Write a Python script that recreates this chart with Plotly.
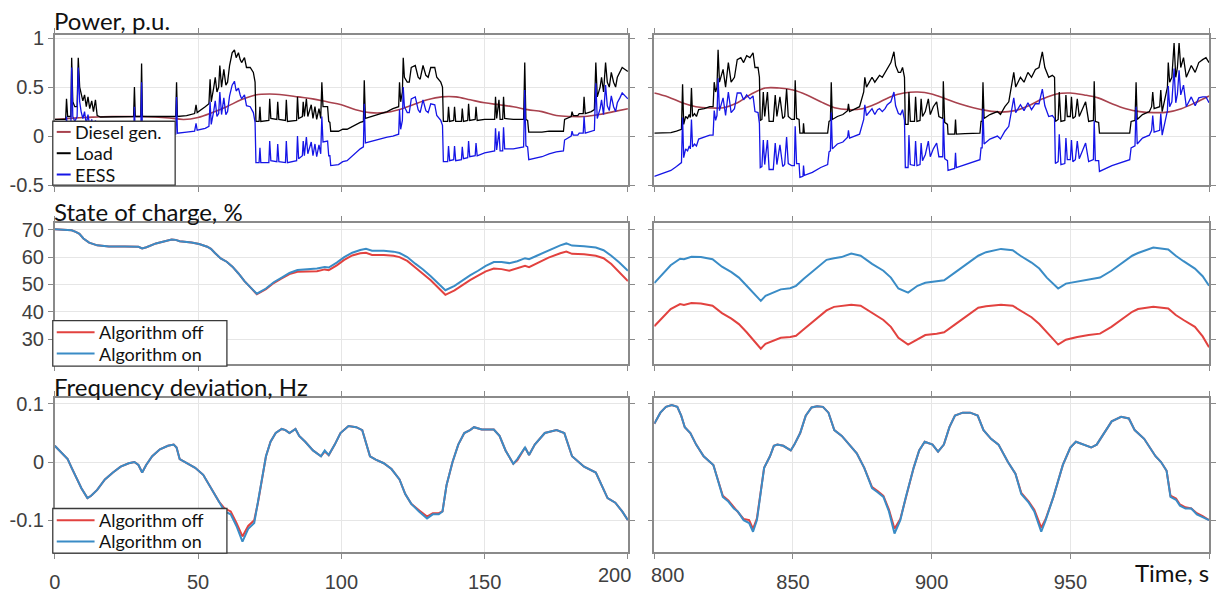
import plotly.graph_objects as go

# ---------------- DATA ----------------
# Power panel, left window (0..200 s)
p_left_t = [0.0, 2.0, 3.8, 4.1, 4.5, 5.6, 5.9, 6.3, 7.0, 7.8,
            8.2, 8.7, 9.2, 9.8, 10.4, 11.0, 11.6, 12.2, 12.9, 13.5,
            14.2, 14.8, 16, 20, 27.5, 27.8, 28.1, 30.0, 30.3, 30.6,
            35, 40, 42.2, 42.5, 42.8, 46, 48.8, 49.3, 49.7, 52.5,
            53.8, 54.2, 54.6, 55.5, 56.0, 56.6, 57.2, 57.6, 58.2, 59.0,
            59.7, 60.3, 61.0, 61.9, 62.7, 63.3, 64.1, 64.7, 65.2, 66.2,
            66.9, 68.2, 69.3, 69.9, 70.2, 71.3, 71.6, 71.9, 74.7, 75.0,
            75.4, 77.5, 77.8, 78.2, 80.5, 80.8, 81.2, 84.4, 84.7, 85.1,
            86.4, 86.7, 87.1, 87.8, 88.3, 89.5, 90.1, 90.8, 91.4, 92.2,
            92.8, 93.2, 93.6, 95.2, 95.6, 96.0, 96.3, 99, 100.5, 102,
            103.8, 105.2, 106.6, 107.7, 108.0, 108.4, 110.7, 113.4, 116, 118,
            120.0, 120.3, 120.7, 121.3, 121.6, 122.0, 123.0, 123.7, 124.4, 125.8,
            126.8, 127.5, 128.5, 129.5, 130.3, 131.2, 132.6, 133.3, 134.7, 135.3,
            135.6, 137.1, 137.4, 137.8, 139.2, 139.5, 139.9, 141.9, 142.2, 142.6,
            144.1, 144.4, 144.8, 146.7, 147.0, 147.4, 150, 153.5, 153.8, 154.2,
            155.0, 155.4, 156.3, 156.6, 157.0, 160, 163.6, 164.0, 164.4, 165.0,
            165.4, 170, 172.5, 175, 177.5, 177.9, 180.2, 180.5, 180.9, 182.5,
            183, 184.4, 184.7, 185.1, 187.2, 188.3, 188.8, 189.3, 190.3, 190.8,
            191.5, 192.2, 192.8, 193.5, 194.2, 195.0, 195.7, 196.3, 197.2, 198.0,
            199.0, 200]
p_left_load = [0.17, 0.17, 0.17, 0.38, 0.2, 0.2, 0.8, 0.35, 0.3, 0.3,
               0.8, 0.5, 0.42, 0.36, 0.42, 0.3, 0.4, 0.28, 0.36, 0.25,
               0.37, 0.21, 0.195, 0.195, 0.2, 0.5, 0.2, 0.2, 0.74, 0.2,
               0.2, 0.2, 0.2, 0.55, 0.2, 0.21, 0.23, 0.32, 0.24, 0.3,
               0.33, 0.58, 0.35, 0.5, 0.6, 0.45, 0.5, 0.72, 0.5, 0.68,
               0.52, 0.55, 0.72, 0.85, 0.88, 0.8, 0.85, 0.78, 0.75, 0.8,
               0.7, 0.7, 0.65, 0.55, 0.15, 0.15, 0.3, 0.15, 0.16, 0.38,
               0.18, 0.17, 0.35, 0.17, 0.16, 0.37, 0.15, 0.16, 0.4, 0.18,
               0.2, 0.35, 0.2, 0.38, 0.2, 0.32, 0.18, 0.3, 0.17, 0.28,
               0.18, 0.55, 0.3, 0.3, 0.15, 0.14, 0.05, 0.05, 0.07, 0.07,
               0.1, 0.12, 0.14, 0.15, 0.57, 0.18, 0.2, 0.22, 0.25, 0.28,
               0.3, 0.55, 0.35, 0.45, 0.8, 0.6, 0.55, 0.55, 0.7, 0.72,
               0.6, 0.58, 0.72, 0.62, 0.6, 0.7, 0.7, 0.6, 0.55, 0.5,
               0.15, 0.15, 0.3, 0.15, 0.16, 0.3, 0.15, 0.15, 0.28, 0.15,
               0.16, 0.33, 0.16, 0.17, 0.3, 0.16, 0.17, 0.17, 0.4, 0.18,
               0.37, 0.17, 0.17, 0.4, 0.18, 0.17, 0.17, 0.75, 0.17, 0.16,
               0.04, 0.04, 0.05, 0.05, 0.05, 0.17, 0.2, 0.25, 0.21, 0.21,
               0.23, 0.23, 0.4, 0.23, 0.25, 0.27, 0.75, 0.4, 0.5, 0.6,
               0.45, 0.75, 0.55, 0.5, 0.65, 0.55, 0.5, 0.6, 0.65, 0.7,
               0.68, 0.66]
p_left_eess = [0.0, 0.0, 0.02, 0.2, 0.03, 0.05, 0.7, 0.2, 0.15, 0.2,
               0.7, 0.35, 0.25, 0.18, 0.25, 0.12, 0.22, 0.1, 0.17, 0.07,
               0.16, 0.02, 0.0, -0.005, 0.0, 0.3, 0.0, 0.0, 0.55, 0.0,
               0.005, 0.015, 0.02, 0.4, 0.03, 0.04, 0.05, 0.13, 0.06, 0.08,
               0.1, 0.35, 0.12, 0.26, 0.36, 0.2, 0.23, 0.45, 0.22, 0.39,
               0.22, 0.25, 0.41, 0.52, 0.56, 0.46, 0.49, 0.42, 0.38, 0.42,
               0.31, 0.3, 0.24, 0.14, -0.27, -0.27, -0.12, -0.27, -0.27, -0.05,
               -0.25, -0.26, -0.08, -0.26, -0.27, -0.05, -0.27, -0.25, 0.0, -0.23,
               -0.2, -0.05, -0.2, -0.01, -0.18, -0.06, -0.2, -0.08, -0.21, -0.09,
               -0.18, 0.2, -0.06, -0.05, -0.2, -0.2, -0.3, -0.29, -0.26, -0.25,
               -0.2, -0.16, -0.13, -0.11, 0.33, -0.07, -0.05, -0.03, -0.01, 0.0,
               0.02, 0.27, 0.07, 0.16, 0.5, 0.3, 0.24, 0.24, 0.38, 0.4,
               0.27, 0.24, 0.37, 0.26, 0.24, 0.33, 0.32, 0.21, 0.16, 0.11,
               -0.26, -0.26, -0.1, -0.25, -0.24, -0.1, -0.25, -0.24, -0.11, -0.23,
               -0.22, -0.05, -0.21, -0.2, -0.07, -0.2, -0.17, -0.15, 0.08, -0.14,
               0.05, -0.15, -0.15, 0.09, -0.13, -0.13, -0.11, 0.47, -0.1, -0.11,
               -0.24, -0.21, -0.18, -0.16, -0.15, -0.04, 0.0, 0.05, 0.01, 0.01,
               0.03, 0.03, 0.2, 0.03, 0.05, 0.06, 0.54, 0.18, 0.28, 0.37,
               0.22, 0.52, 0.31, 0.26, 0.41, 0.3, 0.25, 0.34, 0.39, 0.44,
               0.41, 0.38]
diesel_left_t = [0, 5, 10, 15, 20, 25, 30, 35, 40, 45,
                 50, 55, 60, 65, 70, 75, 80, 85, 90, 95,
                 100, 105, 110, 115, 120, 125, 130, 135, 140, 145,
                 150, 155, 160, 165, 170, 175, 180, 185, 190, 195, 200]
diesel_left = [0.17, 0.18, 0.19, 0.195, 0.2, 0.2, 0.2, 0.195, 0.185, 0.17,
               0.19, 0.24, 0.3, 0.37, 0.42, 0.43, 0.42, 0.40, 0.38, 0.35,
               0.32, 0.27, 0.24, 0.24, 0.27, 0.32, 0.37, 0.40, 0.40, 0.37,
               0.34, 0.32, 0.30, 0.27, 0.25, 0.21, 0.2, 0.2, 0.22, 0.25, 0.28]

# Power panel, right window (800..1000 s)
p_right_t = [800, 803, 806, 808, 809.8, 810.2, 810.6, 811.3, 812.0, 812.6,
             813.0, 813.4, 813.8, 814.5, 815.2, 816, 818, 820, 821.2, 821.6,
             822.1, 822.6, 823.0, 823.5, 824.8, 825.7, 826.7, 827.7, 828.9, 829.9,
             831.2, 832.2, 833.3, 834.5, 835.6, 836.3, 837.4, 837.9, 838.2, 838.8,
             839.3, 839.8, 840.8, 841.4, 842.9, 843.6, 844.2, 845.3, 846.3, 847.0,
             847.7, 848.3, 849.5, 850.5, 850.8, 851.3, 852.2, 852.5, 853.6, 853.8,
             854.1, 857, 860, 862.5, 863.0, 863.5, 863.8, 864.2, 866, 868,
             869.7, 870.0, 870.4, 872.3, 874, 875.5, 875.9, 876.5, 877.5, 878.5,
             879.5, 880.5, 881.2, 882.2, 883.2, 884.0, 885.3, 886.4, 887.0, 888.0,
             888.8, 889.5, 890.2, 890.5, 891.5, 891.8, 892.3, 893.8, 894.2, 894.7,
             895.8, 896.2, 896.7, 897.7, 898.8, 899.5, 900.6, 901.8, 902.6, 904.0,
             904.2, 904.7, 905.7, 905.9, 908.3, 908.6, 908.9, 912, 915, 917.4,
             917.8, 918.2, 918.5, 918.9, 921, 923.7, 924.8, 926.4, 927.8, 929.0,
             929.6, 930.3, 932.0, 933.3, 934.7, 936.0, 937.4, 938.7, 939.9, 940.8,
             942.2, 943.5, 944.3, 944.6, 945.6, 946.0, 946.6, 948.0, 948.4, 948.9,
             950.0, 950.4, 950.9, 951.8, 952.5, 953.2, 955.5, 956.6, 958.3, 958.6,
             959.0, 960.2, 960.5, 965, 968, 971.4, 971.9, 973.3, 973.7, 974.1,
             976, 978.5, 979.3, 979.7, 980.2, 982.2, 982.6, 983.1, 985.0, 985.3,
             985.8, 986.6, 987.4, 988.0, 988.6, 989.2, 989.8, 990.8, 991.8, 993.6,
             995.0, 996.3, 997.7, 998.9, 1000]
p_right_load = [0.03, 0.03, 0.035, 0.05, 0.07, 0.53, 0.12, 0.2, 0.18, 0.22,
                0.19, 0.49, 0.2, 0.23, 0.2, 0.27, 0.28, 0.3, 0.3, 0.55,
                0.45, 0.5, 0.88, 0.55, 0.68, 0.5, 0.75, 0.55, 0.6, 0.78,
                0.8, 0.75, 0.82, 0.8, 0.85, 0.7, 0.7, 0.6, 0.16, 0.17,
                0.45, 0.2, 0.45, 0.15, 0.15, 0.42, 0.2, 0.4, 0.18, 0.2,
                0.48, 0.2, 0.17, 0.17, 0.57, 0.18, 0.17, 0.03, 0.03, 0.13,
                0.03, 0.03, 0.03, 0.03, 0.15, 0.16, 0.55, 0.17, 0.2, 0.22,
                0.26, 0.33, 0.25, 0.28, 0.3, 0.45, 0.6, 0.5, 0.55, 0.6,
                0.55, 0.6, 0.62, 0.6, 0.65, 0.7, 0.75, 0.86, 0.72, 0.65,
                0.65, 0.7, 0.6, 0.12, 0.12, 0.45, 0.15, 0.15, 0.4, 0.15,
                0.16, 0.38, 0.2, 0.25, 0.38, 0.22, 0.3, 0.35, 0.2, 0.18,
                0.56, 0.14, 0.12, 0.02, 0.02, 0.17, 0.02, 0.025, 0.03, 0.03,
                0.15, 0.15, 0.55, 0.18, 0.22, 0.25, 0.22, 0.3, 0.35, 0.55,
                0.65, 0.5, 0.6, 0.55, 0.65, 0.6, 0.68, 0.7, 0.86, 0.7,
                0.6, 0.62, 0.6, 0.15, 0.17, 0.45, 0.15, 0.16, 0.42, 0.2,
                0.2, 0.4, 0.18, 0.2, 0.38, 0.2, 0.35, 0.15, 0.16, 0.56,
                0.15, 0.14, 0.03, 0.03, 0.03, 0.03, 0.15, 0.16, 0.55, 0.17,
                0.22, 0.25, 0.3, 0.45, 0.28, 0.3, 0.47, 0.25, 0.5, 0.75,
                0.55, 0.6, 0.95, 0.6, 0.7, 0.95, 0.7, 0.8, 0.6, 0.72,
                0.65, 0.75, 0.78, 0.8, 0.75]
p_right_eess = [-0.41, -0.38, -0.35, -0.31, -0.27, 0.19, -0.22, -0.13, -0.15, -0.1,
                -0.13, 0.17, -0.11, -0.08, -0.1, -0.03, -0.01, 0.01, 0.01, 0.26,
                0.16, 0.21, 0.59, 0.26, 0.39, 0.21, 0.45, 0.24, 0.28, 0.44,
                0.44, 0.37, 0.42, 0.38, 0.41, 0.25, 0.24, 0.13, -0.32, -0.31,
                -0.04, -0.29, -0.04, -0.34, -0.34, -0.07, -0.29, -0.09, -0.31, -0.29,
                -0.01, -0.28, -0.3, -0.3, 0.1, -0.28, -0.28, -0.42, -0.41, -0.3,
                -0.4, -0.37, -0.32, -0.29, -0.16, -0.15, 0.24, -0.13, -0.08, -0.06,
                -0.01, 0.06, -0.02, 0.0, 0.02, 0.17, 0.32, 0.21, 0.25, 0.28,
                0.22, 0.27, 0.28, 0.25, 0.28, 0.32, 0.35, 0.45, 0.31, 0.23,
                0.22, 0.27, 0.16, -0.32, -0.32, 0.01, -0.29, -0.3, -0.05, -0.3,
                -0.29, -0.07, -0.25, -0.19, -0.05, -0.21, -0.13, -0.07, -0.21, -0.21,
                0.18, -0.23, -0.25, -0.35, -0.33, -0.17, -0.32, -0.29, -0.26, -0.24,
                -0.12, -0.12, 0.28, -0.08, -0.03, 0.0, -0.03, 0.05, 0.1, 0.29,
                0.39, 0.24, 0.32, 0.26, 0.34, 0.27, 0.33, 0.33, 0.48, 0.31,
                0.2, 0.21, 0.18, -0.28, -0.26, 0.02, -0.29, -0.28, -0.02, -0.24,
                -0.24, -0.04, -0.26, -0.24, -0.05, -0.23, -0.07, -0.26, -0.24, 0.16,
                -0.25, -0.25, -0.36, -0.3, -0.27, -0.24, -0.12, -0.1, 0.3, -0.08,
                -0.02, 0.01, 0.06, 0.21, 0.04, 0.06, 0.23, 0.01, 0.26, 0.51,
                0.3, 0.35, 0.69, 0.34, 0.43, 0.67, 0.42, 0.52, 0.3, 0.4,
                0.31, 0.39, 0.4, 0.4, 0.34]
diesel_right_t = [800, 805, 810, 815, 820, 825, 830, 835, 840, 845,
                  850, 855, 860, 865, 870, 875, 880, 885, 890, 895,
                  900, 905, 910, 915, 920, 925, 930, 935, 940, 945,
                  950, 955, 960, 965, 970, 975, 980, 985, 990, 995, 1000]
diesel_right = [0.44, 0.40, 0.34, 0.30, 0.287, 0.29, 0.34, 0.43, 0.49, 0.49,
                0.47, 0.42, 0.35, 0.29, 0.27, 0.28, 0.33, 0.40, 0.44, 0.45,
                0.43, 0.38, 0.33, 0.29, 0.26, 0.245, 0.26, 0.31, 0.38, 0.43,
                0.44, 0.42, 0.39, 0.33, 0.28, 0.25, 0.24, 0.245, 0.28, 0.34, 0.41]

# State of charge
soc_left_t = [0, 3.8, 5.9, 7.3, 8.6, 10, 12, 14.8, 18.9, 24.4,
              27.8, 29.2, 30.5, 32, 35.3, 38, 40.8, 42.2, 43.6, 47.7,
              50.4, 53.2, 54.5, 55.9, 57.9, 60, 62, 64.1, 66.2, 68.2,
              70.5, 73.7, 76.4, 79.2, 81.9, 84.7, 87.4, 91.5, 94.2, 95.6,
              98.4, 101, 103.8, 106.6, 108.6, 110.7, 114.8, 118.2, 120.3, 123,
              125.8, 128.5, 131.2, 134, 136.3, 139.5, 142.2, 144.9, 147.7, 150.4,
              153.2, 155.9, 158.6, 161.4, 164.1, 165.5, 168.2, 172.3, 176.4, 178.5,
              180.5, 184.7, 188.8, 191.5, 194.2, 197, 200]
soc_left_on = [70.2, 70.1, 69.8, 69.2, 68.5, 66.8, 65.3, 64.3, 63.9, 63.9,
               64.0, 63.8, 63.2, 63.6, 65.0, 65.8, 66.4, 66.3, 65.8, 65.3,
               64.8, 63.8, 63.0, 61.5, 59.5, 58.3, 56.5, 54.0, 51.2, 49.0,
               46.6, 48.5, 50.8, 52.5, 54.2, 55.3, 55.5, 55.8, 56.4, 56.2,
               58.0, 60.0, 61.6, 62.6, 63.0, 62.3, 62.3, 62.0, 61.5, 60.0,
               57.6, 55.5, 53.0, 50.3, 47.9, 49.5, 51.5, 53.3, 55.0, 56.8,
               58.2, 58.2, 57.8, 58.5, 59.6, 59.2, 60.5, 62.5, 64.3, 65.0,
               64.2, 64.0, 63.5, 62.5, 60.5, 58.0, 55.0]
soc_left_off = [70.2, 70.1, 69.8, 69.2, 68.5, 66.8, 65.3, 64.3, 63.9, 63.9,
                64.0, 63.8, 63.2, 63.6, 65.0, 65.8, 66.4, 66.3, 65.8, 65.3,
                64.8, 63.8, 63.0, 61.5, 59.5, 58.3, 56.5, 54.0, 51.2, 49.0,
                46.4, 48.3, 50.5, 52.2, 53.8, 54.6, 54.6, 54.8, 55.5, 55.2,
                57.0, 59.0, 60.6, 61.4, 61.6, 60.8, 60.8, 60.5, 60.0, 58.6,
                56.2, 54.0, 51.5, 48.6, 46.2, 47.8, 49.8, 51.6, 53.2, 54.8,
                55.8, 55.6, 55.0, 56.0, 56.8, 56.3, 57.8, 59.8, 61.4, 62.0,
                61.2, 61.0, 60.5, 59.6, 57.5, 54.5, 51.2]
soc_right_t = [800, 803, 805.9, 809.3, 810.7, 813.4, 816.8, 821, 824.4, 827.8,
               830.5, 833.3, 836, 838.4, 840.1, 842.9, 845.6, 849, 851.1, 853.8,
               857.9, 862.1, 864.8, 867.5, 871, 874.4, 878.5, 882.6, 885.3, 888,
               891.5, 894.9, 897.7, 901.8, 904.5, 908.6, 912.7, 916.8, 919.6, 925,
               929.2, 932, 936, 938.8, 941.5, 945.6, 948.4, 952.5, 956.6, 960.7,
               964.8, 968.9, 972.3, 974.4, 979.9, 985.3, 988, 990.8, 994.9, 997.7,
               1000]
soc_right_on = [50.5, 54.0, 57.0, 59.4, 59.2, 60.1, 60.0, 59.2, 56.5, 54.5,
                52.5, 49.5, 46.5, 44.0, 45.8, 47.0, 48.2, 48.6, 49.5, 52.0,
                55.5, 59.0, 59.6, 60.0, 61.3, 60.5, 57.5, 55.0, 52.5, 48.5,
                47.0, 49.5, 50.6, 51.0, 51.5, 54.5, 57.5, 60.5, 61.8, 63.0,
                62.5, 60.5, 58.0, 55.8, 52.5, 48.5, 50.3, 51.0, 51.8, 52.5,
                55.0, 58.0, 60.5, 61.5, 63.5, 62.8, 60.5, 58.5, 55.8, 53.0,
                49.5]
soc_right_off = [34.7, 38.0, 41.0, 42.8, 42.5, 43.2, 43.0, 42.2, 39.5, 37.5,
                 35.5, 32.5, 29.5, 26.5, 28.3, 29.5, 30.5, 30.8, 31.2, 33.5,
                 37.0, 40.5, 41.8, 42.2, 42.6, 42.2, 39.5, 37.0, 34.5, 30.5,
                 28.0, 30.0, 31.5, 32.0, 32.5, 35.5, 38.5, 41.5, 42.0, 42.6,
                 42.2, 40.5, 38.0, 35.5, 32.5, 28.0, 29.8, 30.8, 31.5, 32.0,
                 34.5, 37.5, 40.0, 41.0, 41.8, 41.2, 38.8, 37.0, 34.5, 31.0,
                 27.0]

# Frequency deviation
f_left_t = [0, 2.5, 4.5, 5.9, 7.9, 9.3, 11.4, 12.7, 14.8, 17.5,
            20.3, 23, 25.8, 27.8, 29.2, 30.5, 31.9, 34, 36.7, 39.5,
            41.5, 42.5, 43.6, 46.3, 49, 51.8, 54.5, 57.3, 59.3, 61.4,
            63.4, 65.5, 67.5, 69.6, 70.9, 72.3, 73.7, 75.3, 77.1, 79.2,
            80.5, 81.9, 84, 85.3, 87.4, 90.1, 92.9, 94.2, 95.6, 97.7,
            99.7, 102.5, 105.2, 107.3, 108.6, 110, 112, 114.8, 117.5, 120.3,
            122.3, 124.4, 127.1, 129.9, 131.9, 134, 135.3, 136.7, 138.8, 140.8,
            142.9, 144.9, 146.3, 149, 153.2, 155.2, 157.3, 160, 161.4, 164.1,
            165.5, 167.5, 171, 175.1, 177.8, 180.5, 184.7, 188.8, 192.9, 195.6,
            198, 200]
f_left_on = [0.028, 0.015, 0.005, -0.01, -0.03, -0.045, -0.062, -0.058, -0.048, -0.03,
             -0.018, -0.008, -0.002, 0.0, -0.005, -0.018, -0.005, 0.01, 0.022, 0.028,
             0.03, 0.025, 0.005, -0.003, -0.01, -0.022, -0.045, -0.07, -0.085, -0.09,
             -0.11, -0.137, -0.115, -0.105, -0.07, -0.03, 0.01, 0.035, 0.05, 0.057,
             0.055, 0.05, 0.057, 0.045, 0.035, 0.02, 0.01, 0.02, 0.012, 0.03,
             0.05, 0.062, 0.06, 0.055, 0.035, 0.01, 0.004, -0.002, -0.012, -0.03,
             -0.055, -0.072, -0.085, -0.097, -0.09, -0.09, -0.085, -0.04, 0.0, 0.03,
             0.05, 0.055, 0.06, 0.056, 0.056, 0.045, 0.02, -0.003, 0.005, 0.025,
             0.012, 0.03, 0.05, 0.055, 0.05, 0.01, -0.008, -0.018, -0.062, -0.07,
             -0.085, -0.1]
f_left_off = [0.028, 0.015, 0.005, -0.01, -0.03, -0.045, -0.062, -0.058, -0.048, -0.03,
              -0.018, -0.008, -0.002, 0.0, -0.005, -0.018, -0.005, 0.01, 0.022, 0.028,
              0.03, 0.025, 0.005, -0.003, -0.01, -0.022, -0.045, -0.068, -0.08, -0.085,
              -0.105, -0.128, -0.11, -0.1, -0.07, -0.03, 0.01, 0.035, 0.05, 0.057,
              0.055, 0.05, 0.057, 0.045, 0.035, 0.02, 0.01, 0.018, 0.012, 0.03,
              0.05, 0.062, 0.06, 0.055, 0.035, 0.01, 0.004, -0.002, -0.012, -0.03,
              -0.055, -0.072, -0.083, -0.094, -0.088, -0.088, -0.085, -0.04, 0.0, 0.03,
              0.05, 0.055, 0.06, 0.056, 0.056, 0.045, 0.02, -0.003, 0.003, 0.025,
              0.012, 0.03, 0.05, 0.055, 0.05, 0.01, -0.008, -0.018, -0.062, -0.07,
              -0.085, -0.1]
f_right_t = [800, 802.2, 804.2, 806.3, 808.3, 809.7, 811, 813, 815.1, 817.8,
             821.3, 823.3, 824.7, 826.7, 828.7, 830.1, 832.2, 834.2, 835.6, 837,
             838.3, 839.6, 841.7, 843.1, 844.4, 846.5, 849.2, 850.5, 852.6, 854.6,
             856.7, 858.7, 860.8, 862.8, 864.9, 867.6, 870.3, 873, 875.7, 878.5,
             880.5, 882.6, 884.6, 886.6, 888.7, 890.7, 893.5, 895.5, 897.5, 900.3,
             902.3, 904.4, 906.4, 908.4, 911.2, 913.9, 916.6, 918.7, 921.4, 924.1,
             927.5, 930.2, 932.3, 935, 937, 939.5, 941.1, 943.9, 947.3, 950,
             952, 954.8, 957.5, 959.5, 962.2, 964.9, 968.3, 971.1, 973.2, 976.6,
             980.7, 982.7, 984.7, 986.1, 988.1, 989.5, 991.5, 993.6, 995.6, 997.7,
             1000]
f_right_on = [0.066, 0.085, 0.095, 0.098, 0.095, 0.08, 0.06, 0.05, 0.03, 0.01,
              -0.005, -0.035, -0.06, -0.068, -0.08, -0.085, -0.1, -0.105, -0.12, -0.1,
              -0.05, -0.01, 0.01, 0.028, 0.03, 0.028, 0.02, 0.03, 0.05, 0.08,
              0.094, 0.096, 0.095, 0.085, 0.055, 0.045, 0.03, 0.015, -0.01, -0.045,
              -0.052, -0.06, -0.085, -0.123, -0.1, -0.06, -0.01, 0.02, 0.035, 0.03,
              0.018, 0.03, 0.06, 0.08, 0.085, 0.085, 0.08, 0.055, 0.04, 0.03,
              0.0, -0.02, -0.055, -0.07, -0.085, -0.12, -0.1, -0.06, -0.005, 0.025,
              0.035, 0.03, 0.025, 0.03, 0.05, 0.07, 0.078, 0.075, 0.055, 0.04,
              0.01, 0.0, -0.015, -0.06, -0.065, -0.075, -0.08, -0.08, -0.09, -0.095,
              -0.1]
f_right_off = [0.066, 0.085, 0.095, 0.098, 0.095, 0.08, 0.06, 0.05, 0.03, 0.01,
               -0.005, -0.035, -0.058, -0.066, -0.078, -0.085, -0.098, -0.1, -0.115, -0.097,
               -0.05, -0.01, 0.01, 0.028, 0.03, 0.028, 0.02, 0.03, 0.05, 0.08,
               0.094, 0.096, 0.095, 0.085, 0.055, 0.045, 0.03, 0.015, -0.01, -0.043,
               -0.05, -0.058, -0.082, -0.115, -0.098, -0.06, -0.01, 0.02, 0.035, 0.03,
               0.018, 0.03, 0.06, 0.08, 0.085, 0.085, 0.08, 0.055, 0.04, 0.03,
               0.0, -0.02, -0.053, -0.068, -0.082, -0.113, -0.098, -0.06, -0.005, 0.025,
               0.035, 0.03, 0.025, 0.03, 0.05, 0.07, 0.078, 0.075, 0.055, 0.04,
               0.01, 0.0, -0.015, -0.058, -0.063, -0.073, -0.078, -0.08, -0.088, -0.093,
               -0.1]

for a, b in [(p_left_t, p_left_load), (p_left_t, p_left_eess), (diesel_left_t, diesel_left),
             (p_right_t, p_right_load), (p_right_t, p_right_eess), (diesel_right_t, diesel_right),
             (soc_left_t, soc_left_on), (soc_left_t, soc_left_off),
             (soc_right_t, soc_right_on), (soc_right_t, soc_right_off),
             (f_left_t, f_left_on), (f_left_t, f_left_off),
             (f_right_t, f_right_on), (f_right_t, f_right_off)]:
    assert len(a) == len(b), (len(a), len(b))

power_names = ["Diesel gen.", "Load", "EESS"]
algo_names = ["Algorithm off", "Algorithm on"]
titles = ["Power, p.u.", "State of charge, %", "Frequency deviation, Hz"]

# ---------------- STYLE ----------------
W, H = 1217, 596
C_DIESEL, C_LOAD, C_EESS = "#a8424e", "#000000", "#1515e6"
C_OFF, C_ON = "#e2423f", "#3a8cc6"
TXT_FONT = "Lato"
TICK_FONT = dict(family="Liberation Sans, Arial", size=20, color="#404040")

def fx(px):
    return px / W

def fy(py):
    return 1 - py / H

fig = go.Figure()

def add(x, y, ax, color, width, name, shape="linear"):
    fig.add_trace(go.Scatter(x=x, y=y, mode="lines", name=name, showlegend=False,
                             line=dict(color=color, width=width, shape=shape),
                             xaxis="x" + ax, yaxis="y" + ax, hoverinfo="skip"))

# row 1 (power)
add(diesel_left_t, diesel_left, "", C_DIESEL, 1.6, power_names[0], "spline")
add(p_left_t, p_left_load, "", C_LOAD, 1.3, power_names[1])
add(p_left_t, p_left_eess, "", C_EESS, 1.3, power_names[2])
add(diesel_right_t, diesel_right, "2", C_DIESEL, 1.6, power_names[0], "spline")
add(p_right_t, p_right_load, "2", C_LOAD, 1.3, power_names[1])
add(p_right_t, p_right_eess, "2", C_EESS, 1.3, power_names[2])
# row 2 (SOC)
add(soc_left_t, soc_left_off, "3", C_OFF, 2, algo_names[0])
add(soc_left_t, soc_left_on, "3", C_ON, 2, algo_names[1])
add(soc_right_t, soc_right_off, "4", C_OFF, 2, algo_names[0])
add(soc_right_t, soc_right_on, "4", C_ON, 2, algo_names[1])
# row 3 (frequency)
add(f_left_t, f_left_off, "5", C_OFF, 2, algo_names[0])
add(f_left_t, f_left_on, "5", C_ON, 2, algo_names[1])
add(f_right_t, f_right_off, "6", C_OFF, 2, algo_names[0])
add(f_right_t, f_right_on, "6", C_ON, 2, algo_names[1])

base = dict(showline=True, linecolor="#8a8a8a", linewidth=1.5, mirror="allticks",
            ticks="outside", ticklen=5, tickcolor="#8a8a8a", tickwidth=1,
            showgrid=True, gridcolor="#e6e6e6", gridwidth=1, zeroline=False,
            tickfont=TICK_FONT, fixedrange=True)

xl = [fx(49), fx(625)]
xr = [fx(651.5), fx(1209)]
rows = [[fy(183), fy(28)], [fy(368), fy(222)], [fy(562), fy(403)]]
yranges = [[-0.5, 1.03], [20.8, 72.5], [-0.155, 0.11]]
yticks = [([-0.5, 0, 0.5, 1], ["-0.5", "0", "0.5", "1"]),
          ([30, 40, 50, 60, 70], ["30", "40", "50", "60", "70"]),
          ([-0.1, 0, 0.1], ["-0.1", "0", "0.1"])]
lay = {}
for r in range(3):
    for c in range(2):
        n = r * 2 + c + 1
        k = "" if n == 1 else str(n)
        if c == 0:
            xa = dict(base, domain=xl, range=[0, 200], tickvals=[0, 50, 100, 150, 200],
                      ticktext=["0", "50", "100", "150", ""])
        else:
            xa = dict(base, domain=xr, range=[800, 1000], tickvals=[800, 850, 900, 950, 1000],
                      ticktext=["", "850", "900", "950", ""])
        xa["anchor"] = "y" + k
        xa["showticklabels"] = (r == 2)
        if r == 2:
            xa["ticklabelstandoff"] = 6
        ya = dict(base, domain=rows[r], range=yranges[r], tickvals=yticks[r][0],
                  ticktext=yticks[r][1], anchor="x" + k, showticklabels=(c == 0))
        lay["xaxis" + k] = xa
        lay["yaxis" + k] = ya

annotations = []
for title, py in zip(titles, [13, 210, 391]):
    annotations.append(dict(text=title, x=fx(46), y=fy(py), xref="paper", yref="paper",
                            xanchor="left", yanchor="middle", showarrow=False,
                            font=dict(family=TXT_FONT, size=24, color="#111111")))
annotations.append(dict(text="200", x=fx(612), y=fy(586), xref="paper", yref="paper",
                        xanchor="center", yanchor="middle", showarrow=False, font=TICK_FONT))
annotations.append(dict(text="800", x=fx(665), y=fy(586), xref="paper", yref="paper",
                        xanchor="center", yanchor="middle", showarrow=False, font=TICK_FONT))
annotations.append(dict(text="Time, s", x=fx(1211), y=fy(583), xref="paper", yref="paper",
                        xanchor="right", yanchor="middle", showarrow=False,
                        font=dict(family=TXT_FONT, size=24, color="#111111")))

shapes = []

def legend(box, names, colors, ys, line_x, text_x):
    x0, y0, x1, y1 = box
    shapes.append(dict(type="rect", xref="paper", yref="paper", x0=fx(x0), x1=fx(x1),
                       y0=fy(y1), y1=fy(y0), fillcolor="white",
                       line=dict(color="#3a3a3a", width=1.3), layer="above"))
    for nm, col, yy in zip(names, colors, ys):
        shapes.append(dict(type="line", xref="paper", yref="paper", x0=fx(line_x[0]),
                           x1=fx(line_x[1]), y0=fy(yy), y1=fy(yy),
                           line=dict(color=col, width=2), layer="above"))
        annotations.append(dict(text=nm, x=fx(text_x), y=fy(yy), xref="paper", yref="paper",
                                xanchor="left", yanchor="middle", showarrow=False, borderpad=0,
                                font=dict(family=TXT_FONT, size=18, color="#111111")))

legend((47, 117, 170, 183), power_names, [C_DIESEL, C_LOAD, C_EESS], [128, 150, 172], (51, 65), 68)
legend((47, 323, 222, 370), algo_names, [C_OFF, C_ON], [335, 357], (51, 89), 92)
legend((47, 517, 222, 563), algo_names, [C_OFF, C_ON], [529, 551], (51, 89), 92)

fig.update_layout(width=W, height=H, margin=dict(l=0, r=0, t=0, b=0),
                  paper_bgcolor="white", plot_bgcolor="white", showlegend=False,
                  annotations=annotations, shapes=shapes, **lay)

fig.write_html("out.html")
